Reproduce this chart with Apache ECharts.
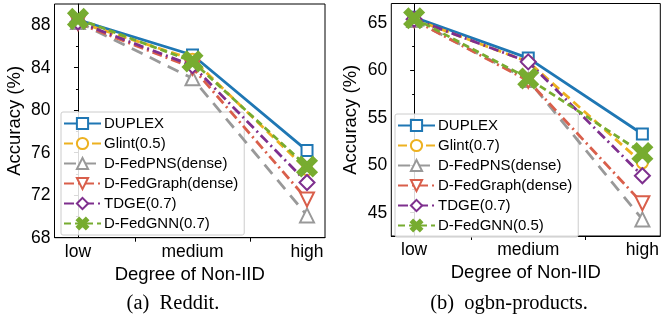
<!DOCTYPE html>
<html><head><meta charset="utf-8">
<script src="https://cdn.jsdelivr.net/npm/echarts@6/dist/echarts.min.js"></script>
<style>html,body{margin:0;padding:0;background:#fff}#c{width:662px;height:328px}</style>
</head><body><div id="c"></div>
<script>
const categories = ['low', 'medium', 'high'];
// Reddit (a)
const redditNames = ['DUPLEX', 'Glint(0.5)', 'D-FedPNS(dense)', 'D-FedGraph(dense)', 'TDGE(0.7)', 'D-FedGNN(0.7)'];
const redditDUPLEX = [88.5, 85.2, 76.2];
const redditGlint = [88.3, 84.8, 74.4];
const redditPNS = [88.3, 83.0, 70.1];
const redditGraph = [88.2, 84.0, 71.6];
const redditTDGE = [88.3, 84.2, 73.2];
const redditGNN = [88.6, 84.6, 74.7];
const redditTicks = [68, 72, 76, 80, 84, 88];
const redditMinor = [70, 74, 78, 82, 86];
// ogbn-products (b)
const ogbnNames = ['DUPLEX', 'Glint(0.7)', 'D-FedPNS(dense)', 'D-FedGraph(dense)', 'TDGE(0.7)', 'D-FedGNN(0.5)'];
const ogbnDUPLEX = [65.6, 61.3, 53.3];
const ogbnGlint = [65.4, 60.9, 50.25];
const ogbnPNS = [65.3, 59.0, 44.3];
const ogbnGraph = [65.3, 58.9, 46.0];
const ogbnTDGE = [65.4, 60.9, 48.9];
const ogbnGNN = [65.5, 59.15, 51.3];
const ogbnTicks = [45, 50, 55, 60, 65];
const ogbnMinor = [47.5, 52.5, 57.5, 62.5];

const FONT = 'Liberation Sans';
const xSym = 'path://M0,2L2,0L5,3L8,0L10,2L7,5L10,8L8,10L5,7L2,10L0,8L3,5Z';
const styles = [
  {color: '#1f77b4', type: 'solid', symbol: 'emptyRect', size: 11, rot: 0},
  {color: '#EDB120', type: [9, 5], symbol: 'emptyCircle', size: 11, rot: 0},
  {color: '#999999', type: [12, 8], symbol: 'emptyTriangle', size: 14, rot: 0},
  {color: '#D95F4B', type: [10, 4, 2, 4], symbol: 'emptyTriangle', size: 14, rot: 180},
  {color: '#7E2F8E', type: [10, 4, 2, 4], symbol: 'emptyDiamond', size: 15, rot: 0},
  {color: '#77AC30', type: [7, 4], symbol: xSym, size: 19, rot: 0}
];

function mkSeries(names, arrays, idx) {
  return arrays.map((arr, i) => ({
    type: 'line', name: names[i], xAxisIndex: idx * 2, yAxisIndex: idx * 2,
    data: arr.map((v, j) => [j, v]),
    symbol: styles[i].symbol, symbolSize: styles[i].size, symbolRotate: styles[i].rot,
    lineStyle: {color: styles[i].color, width: 2.8, type: styles[i].type},
    itemStyle: {color: styles[i].color, borderColor: styles[i].color, borderWidth: 2.2},
    emphasis: {disabled: true}, animation: false, z: 2 + i
  }));
}

const grids = [
  {left: 54.5, top: 4, width: 270.5, height: 233.7, show: true, borderColor: '#000', borderWidth: 1},
  {left: 391.3, top: 3.5, width: 269, height: 232.5, show: true, borderColor: '#000', borderWidth: 1}
];
function mkX(gi, min) {
  const main = {
    type: 'value', gridIndex: gi, min: min, max: 2.157,
    axisLine: {lineStyle: {color: '#000', width: 1}},
    axisTick: {show: true, customValues: [0.5, 1.5], length: 4, lineStyle: {color: '#000'}},
    axisLabel: {customValues: [0, 1, 2], formatter: v => categories[Math.round(v)] || '',
      color: '#000', fontSize: 17.5, fontFamily: FONT, margin: 5},
    splitLine: {show: false},
    name: 'Degree of Non-IID', nameLocation: 'middle', nameGap: 26,
    nameTextStyle: {color: '#000', fontSize: 18.5, fontFamily: FONT}
  };
  const dummy = {type: 'value', gridIndex: gi, min: min, max: 2.157, show: false};
  return [main, dummy];
}
function mkY(gi, min, max, ticks, minor, gap) {
  const main = {
    type: 'value', gridIndex: gi, min: min, max: max,
    axisLine: {show: true, lineStyle: {color: '#000', width: 1}},
    axisTick: {show: true, customValues: ticks, length: 4, lineStyle: {color: '#000'}},
    axisLabel: {customValues: ticks, color: '#000', fontSize: 17.5, fontFamily: FONT, margin: 4},
    splitLine: {show: false},
    name: 'Accuracy (%)', nameLocation: 'middle', nameGap: gap,
    nameTextStyle: {color: '#000', fontSize: 18.5, fontFamily: FONT}
  };
  const minorAxis = {
    type: 'value', gridIndex: gi, min: min, max: max, position: 'left',
    axisLine: {show: false},
    axisTick: {show: true, customValues: minor, length: 2, lineStyle: {color: '#000'}},
    axisLabel: {show: false}, splitLine: {show: false}
  };
  return [main, minorAxis];
}

function mkLegend(names, left, top) {
  return {
    data: names, orient: 'vertical', left: left, top: top,
    itemWidth: 37, itemHeight: 14, itemGap: 5,
    padding: [4, 6, 4, 2],
    backgroundColor: 'rgba(255,255,255,0.85)', borderColor: '#cccccc', borderWidth: 1, borderRadius: 2,
    textStyle: {color: '#000', fontSize: 15, fontFamily: FONT, lineHeight: 15, padding: [0, 0, 0, -2]},
    selectedMode: false
  };
}

const option = {
  animation: false,
  grid: grids,
  xAxis: [...mkX(0, -0.205), ...mkX(1, -0.2)],
  yAxis: [...mkY(0, 68, 90, redditTicks, redditMinor, 30), ...mkY(1, 42.55, 67.05, ogbnTicks, ogbnMinor, 31)],
  legend: [mkLegend(redditNames, 61, 112), mkLegend(ogbnNames, 395, 114)],
  series: [
    ...mkSeries(redditNames, [redditDUPLEX, redditGlint, redditPNS, redditGraph, redditTDGE, redditGNN], 0),
    ...mkSeries(ogbnNames, [ogbnDUPLEX, ogbnGlint, ogbnPNS, ogbnGraph, ogbnTDGE, ogbnGNN], 1)
  ],
  graphic: [
    {type: 'text', x: 173, y: 304, style: {text: '(a)  Reddit.', fontFamily: 'Liberation Serif', fontSize: 20.5, fill: '#000', textAlign: 'center', textVerticalAlign: 'middle'}},
    {type: 'text', x: 509, y: 304, style: {text: '(b)  ogbn-products.', fontFamily: 'Liberation Serif', fontSize: 20.5, fill: '#000', textAlign: 'center', textVerticalAlign: 'middle'}}
  ]
};
const chart = echarts.init(document.getElementById('c'), null, {renderer: 'canvas'});
chart.setOption(option);
</script></body></html>
